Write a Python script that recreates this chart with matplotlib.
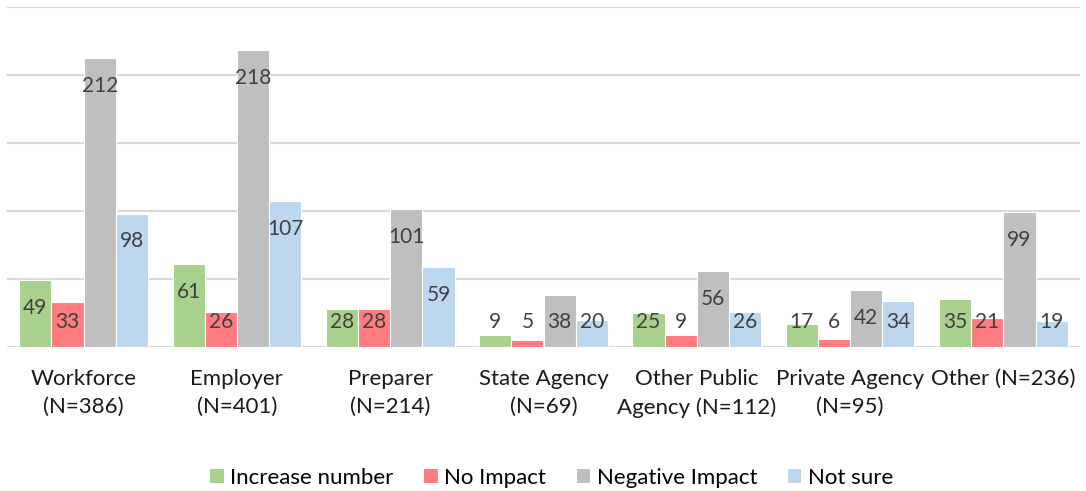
import matplotlib
matplotlib.use("Agg")
import numpy as np
import matplotlib.pyplot as plt
from matplotlib.patches import Patch

plt.rcParams['font.family'] = ['Lato', 'DejaVu Sans']

# Respondent groups and answers
categories = ["Workforce\n(N=386)", "Employer\n(N=401)", "Preparer\n(N=214)",
              "State Agency\n(N=69)", "Other Public\nAgency (N=112)",
              "Private Agency\n(N=95)", "Other (N=236)"]
series = ["Increase number", "No Impact", "Negative Impact", "Not sure"]

increase_number = [49, 61, 28, 9, 25, 17, 35]
no_impact = [33, 26, 28, 5, 9, 6, 21]
negative_impact = [212, 218, 101, 38, 56, 42, 99]
not_sure = [98, 107, 59, 20, 26, 34, 19]

values = [increase_number, no_impact, negative_impact, not_sure]
colors = ["#A9D18E", "#FF7C80", "#BFBFBF", "#BDD7EE"]

fig = plt.figure(figsize=(10.86, 4.91), dpi=100)
ax = fig.add_axes([7 / 1086, 144 / 491, 1073 / 1086, 340.5 / 491])

x = np.arange(len(categories))
width = 0.21

for k, (vals, col) in enumerate(zip(values, colors)):
    pos = x + (k - 1.5) * width
    ax.bar(pos, vals, width, color=col, edgecolor="white", linewidth=0.8, zorder=2)
    for p, v in zip(pos, vals):
        # label sits just inside the top, but never lower than the floor
        ax.text(p, max(v - 20.5, 18.4), str(v), ha="center", va="center",
                fontsize=15, color="#404040", zorder=3)

ax.set_xlim(-0.5, len(categories) - 0.5)
ax.set_ylim(0, 250)
ax.set_yticks(np.arange(0, 251, 50))
ax.yaxis.grid(True, color="#D9D9D9", linewidth=1.5, zorder=0)
ax.set_axisbelow(True)
ax.tick_params(axis="y", left=False, labelleft=False)
ax.tick_params(axis="x", length=0, pad=16)
ax.set_xticks(x)
ax.set_xticklabels(categories, fontsize=16, color="#1A1A1A", linespacing=1.5)
for s in ax.spines.values():
    s.set_visible(False)

handles = [Patch(facecolor=c, edgecolor="none") for c in colors]
fig.legend(handles, series, loc="center", bbox_to_anchor=(0.508, 13 / 491),
           ncol=4, frameon=False, fontsize=16, handlelength=0.6,
           handleheight=0.6, handletextpad=0.28, columnspacing=1.4)

fig.savefig("out.png", dpi=100)
